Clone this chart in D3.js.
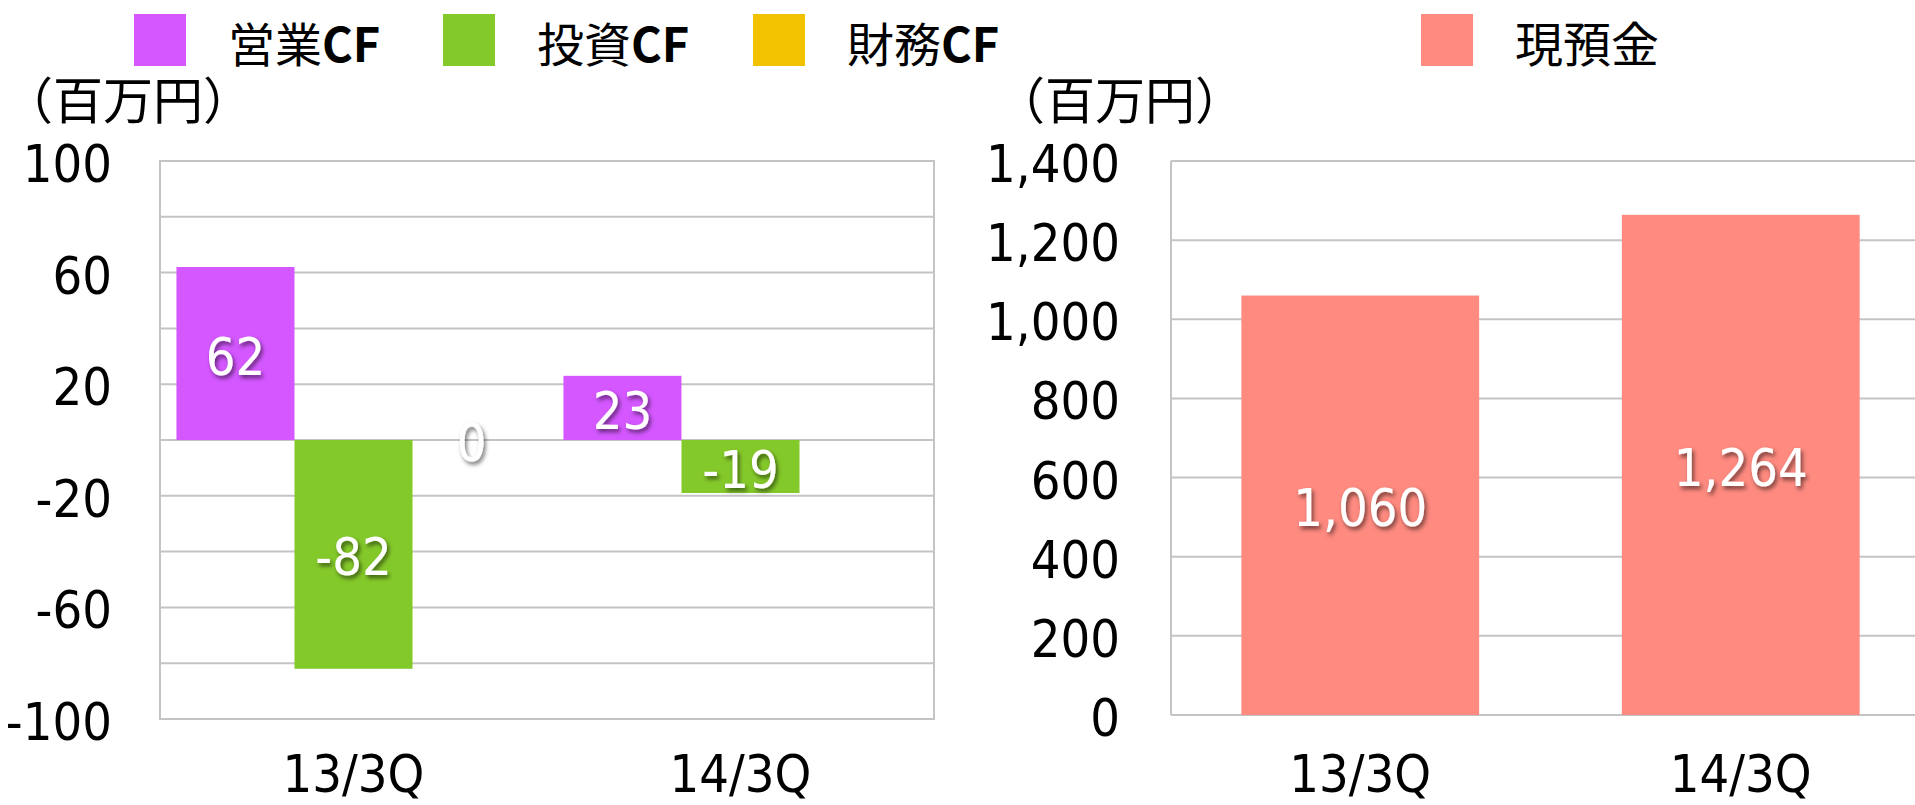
<!DOCTYPE html>
<html>
<head>
<meta charset="utf-8">
<script src="https://cdn.jsdelivr.net/npm/d3@7"></script>
<style>
    body { margin: 0; background: #fff; overflow: hidden; }
    .num { font-family: "Liberation Sans Narrow", "DejaVu Sans Condensed", sans-serif; font-size: 52px; fill: #000; }
    .jp { font-family: "Noto Sans CJK JP", sans-serif; fill: #000; }
    .label { fill: #fff; filter: url(#shadow); }
</style>
</head>
<body>
<div id="chart"></div>
<script>
// Data
const categories = ["13/3Q", "14/3Q"];
const operatingCF = [62, 23];
const investingCF = [-82, -19];
const financingCF = [0, null];
const cashBalance = [1060, 1264];

const cfNames = ["営業CF", "投資CF", "財務CF"];
const cfColors = ["#D457FF", "#84C92A", "#F2C200"];
const cashName = "現預金";
const cashColor = "#FE8A80";

const cfGridValues = [-100, -80, -60, -40, -20, 0, 20, 40, 60, 80, 100];
const cfTickValues = [-100, -60, -20, 20, 60, 100];
const cashTickValues = [0, 200, 400, 600, 800, 1000, 1200, 1400];
const unitLabel = "（百万円）";

const width = 1915;
const height = 805;

const svg = d3.select("#chart")
    .append("svg")
    .attr("width", width)
    .attr("height", height);

// white text drop shadow for data labels
svg.append("defs").append("filter")
    .attr("id", "shadow")
    .attr("x", "-30%").attr("y", "-30%")
    .attr("width", "160%").attr("height", "160%")
    .append("feDropShadow")
    .attr("dx", 2).attr("dy", 3)
    .attr("stdDeviation", 2)
    .attr("flood-color", "#000")
    .attr("flood-opacity", 0.55);

const gridColor = "#C4C4C4";

// ---------- Left chart: cash flows ----------
const cfSeries = [operatingCF, investingCF, financingCF];

const x0 = d3.scaleBand()
    .domain(categories)
    .range([160, 934])
    .paddingInner(0.085)
    .paddingOuter(0.0425);

const x1 = d3.scaleBand()
    .domain(d3.range(cfSeries.length))
    .range([0, x0.bandwidth()]);

const yCF = d3.scaleLinear()
    .domain([-100, 100])
    .range([719, 161]);

const left = svg.append("g");

left.selectAll(".grid")
    .data(cfGridValues)
    .join("line")
    .attr("x1", 160).attr("x2", 934)
    .attr("y1", d => yCF(d)).attr("y2", d => yCF(d))
    .attr("stroke", gridColor)
    .attr("stroke-width", 2);

left.append("rect")
    .attr("x", 160).attr("y", yCF(100))
    .attr("width", 934 - 160).attr("height", yCF(-100) - yCF(100))
    .attr("fill", "none")
    .attr("stroke", gridColor)
    .attr("stroke-width", 2);

left.selectAll(".ytick")
    .data(cfTickValues)
    .join("text")
    .attr("class", "num")
    .attr("x", 112)
    .attr("y", d => yCF(d) + 3)
    .attr("text-anchor", "end")
    .attr("dominant-baseline", "central")
    .text(d => d);

const cfData = [];
cfSeries.forEach(function(values, s) {
    values.forEach(function(v, i) {
        cfData.push({ s: s, cat: categories[i], value: v });
    });
});

left.selectAll(".bar")
    .data(cfData.filter(d => d.value !== null && d.value !== 0))
    .join("rect")
    .attr("x", d => x0(d.cat) + x1(d.s))
    .attr("width", x1.bandwidth())
    .attr("y", d => yCF(Math.max(0, d.value)))
    .attr("height", d => Math.abs(yCF(d.value) - yCF(0)))
    .attr("fill", d => cfColors[d.s]);

left.selectAll(".label")
    .data(cfData.filter(d => d.value !== null))
    .join("text")
    .attr("class", "num label")
    .attr("x", d => x0(d.cat) + x1(d.s) + x1.bandwidth() / 2)
    .attr("y", d => (yCF(d.value) + yCF(0)) / 2 + 3)
    .attr("text-anchor", "middle")
    .attr("dominant-baseline", "central")
    .text(d => d.value);

left.selectAll(".xtick")
    .data(categories)
    .join("text")
    .attr("class", "num")
    .attr("x", d => x0(d) + x0.bandwidth() / 2)
    .attr("y", 792)
    .attr("text-anchor", "middle")
    .text(d => d);

// ---------- Right chart: cash balance ----------
const xCash = d3.scaleBand()
    .domain(categories)
    .range([1170, 1931])
    .paddingInner(0.375)
    .paddingOuter(0.1875);

const yCash = d3.scaleLinear()
    .domain([0, 1400])
    .range([715, 161]);

const right = svg.append("g");

right.selectAll(".grid")
    .data(cashTickValues)
    .join("line")
    .attr("x1", 1171).attr("x2", 1931)
    .attr("y1", d => yCash(d)).attr("y2", d => yCash(d))
    .attr("stroke", gridColor)
    .attr("stroke-width", 2);

right.append("line")
    .attr("x1", 1171).attr("x2", 1171)
    .attr("y1", yCash(1400)).attr("y2", yCash(0))
    .attr("stroke", gridColor)
    .attr("stroke-width", 2);

right.selectAll(".ytick")
    .data(cashTickValues)
    .join("text")
    .attr("class", "num")
    .attr("x", 1120)
    .attr("y", d => yCash(d) + 3)
    .attr("text-anchor", "end")
    .attr("dominant-baseline", "central")
    .text(d => d3.format(",")(d));

right.selectAll(".bar")
    .data(cashBalance)
    .join("rect")
    .attr("x", (d, i) => xCash(categories[i]))
    .attr("width", xCash.bandwidth())
    .attr("y", d => yCash(d))
    .attr("height", d => yCash(0) - yCash(d))
    .attr("fill", cashColor);

right.selectAll(".label")
    .data(cashBalance)
    .join("text")
    .attr("class", "num label")
    .attr("x", (d, i) => xCash(categories[i]) + xCash.bandwidth() / 2)
    .attr("y", d => (yCash(d) + yCash(0)) / 2 + 3)
    .attr("text-anchor", "middle")
    .attr("dominant-baseline", "central")
    .text(d => d3.format(",")(d));

right.selectAll(".xtick")
    .data(categories)
    .join("text")
    .attr("class", "num")
    .attr("x", d => xCash(d) + xCash.bandwidth() / 2)
    .attr("y", 792)
    .attr("text-anchor", "middle")
    .text(d => d);

// ---------- Legends and unit labels ----------
const legendX = [134, 443, 753];
const legend = svg.selectAll(".legend")
    .data(cfNames)
    .join("g")
    .attr("transform", (d, i) => `translate(${legendX[i]}, 14)`);

legend.append("rect")
    .attr("width", 52).attr("height", 52)
    .attr("fill", (d, i) => cfColors[i]);

const legendText = legend.append("text")
    .attr("class", "jp")
    .attr("x", 94)
    .attr("y", 27)
    .attr("dominant-baseline", "central")
    .style("font-size", "47px");

// kanji part regular, "CF" bold as in the original
legendText.append("tspan")
    .text(d => d.replace("CF", ""));
legendText.append("tspan")
    .style("font-weight", "bold")
    .text("CF");

const cashLegend = svg.append("g")
    .attr("transform", "translate(1421, 14)");

cashLegend.append("rect")
    .attr("width", 52).attr("height", 52)
    .attr("fill", cashColor);

cashLegend.append("text")
    .attr("class", "jp")
    .attr("x", 94)
    .attr("y", 27)
    .attr("dominant-baseline", "central")
    .style("font-size", "48px")
    .text(cashName);

svg.append("text")
    .attr("class", "jp")
    .attr("x", 3)
    .attr("y", 97)
    .attr("dominant-baseline", "central")
    .style("font-size", "50px")
    .text(unitLabel);

svg.append("text")
    .attr("class", "jp")
    .attr("x", 995)
    .attr("y", 97)
    .attr("dominant-baseline", "central")
    .style("font-size", "50px")
    .text(unitLabel);
</script>
</body>
</html>
